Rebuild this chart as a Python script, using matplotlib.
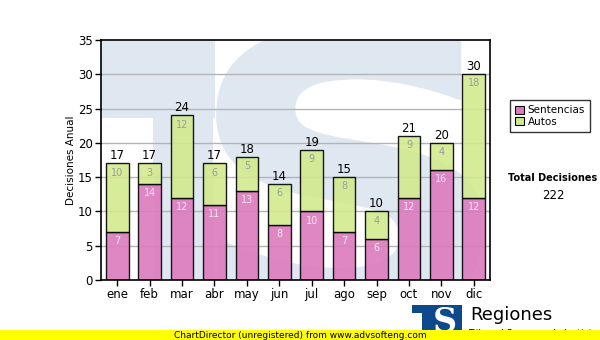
import numpy as np
import matplotlib
matplotlib.use("Agg")
import matplotlib.pyplot as plt
from matplotlib.patches import Rectangle, PathPatch
from matplotlib.textpath import TextPath
from matplotlib.font_manager import FontProperties
import matplotlib.transforms as mtransforms

meses = ['ene', 'feb', 'mar', 'abr', 'may', 'jun', 'jul', 'ago', 'sep', 'oct', 'nov', 'dic']
sentencias = [7, 14, 12, 11, 13, 8, 10, 7, 6, 12, 16, 12]
autos = [10, 3, 12, 6, 5, 6, 9, 8, 4, 9, 4, 18]
series_names = ['Sentencias', 'Autos']

PINK = '#dc7abd'
GREEN = '#d2ea8e'
WATER = '#dfe8f1'

plt.rcParams['font.family'] = ['DejaVu Sans']

fig = plt.figure(figsize=(6, 3.4), dpi=100)
ax = fig.add_axes([101 / 600, 1 - 280 / 340, 389 / 600, 240 / 340])

x = np.arange(len(meses))
total = np.array(sentencias) + np.array(autos)

# watermark logo behind the bars: a "T" and a big "S"
ax.add_patch(Rectangle((-0.5, 23.6), 3.52, 12, color=WATER, lw=0, zorder=0))
ax.add_patch(Rectangle((1.1, 0), 1.86, 23.6, color=WATER, lw=0, zorder=0))
tp = TextPath((0, 0), "S", size=1, prop=FontProperties(family="DejaVu Sans", weight="bold"))
bb = tp.get_extents()
x0, x1, y0, y1 = 3.05, 11.3, -6.0, 37.0
tr = (mtransforms.Affine2D().translate(-bb.x0, -bb.y0)
      .scale((x1 - x0) / bb.width, (y1 - y0) / bb.height).translate(x0, y0))
s_patch = PathPatch(tr.transform_path(tp), color=WATER, lw=0, zorder=0)
ax.add_patch(s_patch)
s_patch.set_clip_path(ax.patch)

for yv in range(5, 35, 5):
    ax.axhline(yv, color='#b4b4b4', lw=1, zorder=1)

ax.bar(x, sentencias, width=0.7, color=PINK, alpha=0.9, edgecolor='black', lw=1, zorder=2)
ax.bar(x, autos, width=0.7, bottom=sentencias, color=GREEN, alpha=0.9, edgecolor='black', lw=1, zorder=2)

for i in range(len(meses)):
    ax.text(x[i], sentencias[i] - 0.6, str(sentencias[i]), ha='center', va='top',
            fontsize=7, color='#f4e6f2', zorder=3)
    ax.text(x[i], total[i] - 0.6, str(autos[i]), ha='center', va='top',
            fontsize=7, color='#9c9c9c', zorder=3)
    ax.text(x[i], total[i] + 0.15, str(total[i]), ha='center', va='bottom',
            fontsize=8.5, color='black', zorder=3)

ax.set_xlim(-0.5, len(meses) - 0.5)
ax.set_ylim(0, 35)
ax.set_yticks(range(0, 36, 5))
ax.set_xticks(x)
ax.set_xticklabels(meses)
ax.tick_params(axis='both', labelsize=8.5, length=4, width=1, pad=2, colors='black')
ax.set_ylabel('Decisiones Anual', fontsize=7.5, labelpad=1)
for sp in ax.spines.values():
    sp.set_linewidth(1.2)

# legend box
lg_handles = [Rectangle((0, 0), 1, 1, facecolor=PINK, edgecolor='black', lw=0.8),
              Rectangle((0, 0), 1, 1, facecolor=GREEN, edgecolor='black', lw=0.8)]
leg = fig.legend(lg_handles, series_names, loc='upper left',
                 bbox_to_anchor=(510 / 600, 1 - 100 / 340), fontsize=7.5,
                 frameon=True, fancybox=False, handlelength=0.8, handleheight=0.8,
                 handletextpad=0.4, labelspacing=0.15, borderpad=0.5, borderaxespad=0)
leg.get_frame().set_edgecolor('black')
leg.get_frame().set_linewidth(1)

fig.text(553 / 600, 1 - 178 / 340, 'Total Decisiones', ha='center', va='center',
         fontsize=7, fontweight='bold')
fig.text(553 / 600, 1 - 196 / 340, str(int(total.sum())), ha='center', va='center', fontsize=8.5)

# footer logo and banner
fig.add_artist(Rectangle((412 / 600, 0), 50 / 600, 35 / 340, transform=fig.transFigure,
                         color='#0d4a8c', lw=0, zorder=1))
fig.add_artist(Rectangle((412 / 600, 0), 10 / 600, 27 / 340, transform=fig.transFigure,
                         color='white', lw=0, zorder=1))
fig.text(445 / 600, 1 - 322 / 340, 'S', ha='center', va='center', fontsize=24,
         fontweight='bold', family='DejaVu Serif', color='white', zorder=2)
fig.text(470 / 600, 1 - 315 / 340, 'Regiones', ha='left', va='center', fontsize=13, zorder=2)
fig.text(468 / 600, 1 - 333 / 340, 'Tribunal Supremo de Justicia', ha='left', va='center',
         fontsize=6.5, zorder=2)
fig.add_artist(Rectangle((0, 0), 1, 10 / 340, transform=fig.transFigure,
                         color='#ffff00', lw=0, zorder=5))
fig.text(300 / 600, 5 / 340, 'ChartDirector (unregistered) from www.advsofteng.com',
         ha='center', va='center', fontsize=6.5, zorder=6)

fig.savefig('out.png', dpi=100)
